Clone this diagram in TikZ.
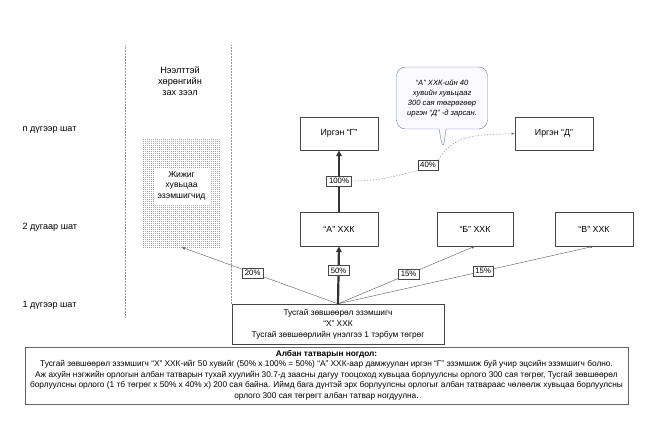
\documentclass[tikz,border=0pt]{standalone}
\usepackage{fontspec}
\setmainfont{Liberation Sans}
\usepackage{tikz}
\usetikzlibrary{calc, positioning, arrows.meta, patterns, shapes.callouts}

\pgfdeclarepatternformonly{finedots}{\pgfpointorigin}{\pgfqpoint{1.5pt}{1.5pt}}{\pgfqpoint{1.5pt}{1.5pt}}{%
  \pgfpathrectangle{\pgfqpoint{0.3pt}{0.3pt}}{\pgfqpoint{0.85pt}{0.85pt}}\pgfusepath{fill}}

\definecolor{boxline}{RGB}{70,70,70}
\definecolor{noteline}{RGB}{110,130,160}

\begin{document}
\begin{tikzpicture}[x=1pt, y=-1pt,
    every node/.style={font=\fontsize{8.8}{10}\selectfont},
    entity/.style={draw=boxline, fill=white, minimum width=78pt, minimum height=34pt, inner sep=1pt},
    pct/.style={draw=boxline, line width=0.5pt, fill=white, inner sep=2.4pt, font=\fontsize{7.8}{9}\selectfont},
    share/.style={draw=gray!70!black, thin, -{Latex[length=3.5pt,width=2.5pt]}},
    control/.style={draw=black!80, line width=2.2pt, -{Triangle[length=6pt,width=5.5pt]}},
    sold/.style={draw=gray, thin, dash pattern=on 1.5pt off 1.5pt, -{Latex[length=3pt,width=2.5pt]}}]
  \useasboundingbox (0,0) rectangle (655,426);
  % Market columns
  \draw[gray!80, dash pattern=on 0.6pt off 0.9pt] (125,45) -- (125,318);
  \draw[gray!80, dash pattern=on 0.6pt off 0.9pt] (231,45) -- (231,304);
  \node[align=center, font=\fontsize{9.2}{11}\selectfont] (market) at (180,81) {Нээлттэй\\хөрөнгийн\\зах зээл};
  % Levels
  \node[anchor=west, font=\fontsize{9.1}{10}\selectfont] (lvln) at (19,130) {n дүгээр шат};
  \node[anchor=west, font=\fontsize{9.1}{10}\selectfont] (lvl2) at (19,227) {2 дугаар шат};
  \node[anchor=west, font=\fontsize{9.1}{10}\selectfont] (lvl1) at (19,305) {1 дүгээр шат};
  % Small holders
  \node[minimum width=79pt, minimum height=109pt, pattern=finedots, pattern color=gray!65] (holders) at (181.5,192.5) {};
  \node[fill=white, align=center, minimum width=56pt, minimum height=36pt, inner sep=0pt,
        font=\fontsize{8.6}{10.5}\selectfont] (holderstxt) at (181.5,185.5) {Жижиг\\хувьцаа\\эзэмшигчид};
  % Companies and persons
  \node[entity, minimum height=33pt] (g) at (339,133.5) {Иргэн “Г”};
  \node[entity, minimum height=33pt] (d) at (554,133.5) {Иргэн “Д”};
  \node[entity] (a) at (339,229) {“А” ХХК};
  \node[entity, minimum width=76pt] (b) at (475,229) {“Б” ХХК};
  \node[entity] (v) at (594,229) {“В” ХХК};
  \node[entity, minimum width=212pt, minimum height=40pt, align=center,
        font=\fontsize{8.3}{11}\selectfont] (x) at (338,324)
        {Тусгай зөвшөөрөл эзэмшигч\\“Х” ХХК\\Тусгай зөвшөөрлийн үнэлгээ 1 тэрбум төгрөг};
  % Shares
  \draw[share] (x.north) -- node[pct, pos=0.545] (p20) {20\%} (holders.south);
  \draw[share] (x.north) -- node[pct, pos=0.515] (p15b) {15\%} (b.south);
  \draw[share] (x.north) -- node[pct, pos=0.567] (p15v) {15\%} (v.south);
  \draw[control] (x.north) -- node[pct, pos=0.58] (p50) {50\%} (a.south);
  \draw[control] (a.north) -- node[pct, pos=0.5] (p100) {100\%} (g.south);
  % Sale to Д
  \node[pct] (p40) at (428,165) {40\%};
  \draw[gray, thin, dash pattern=on 1.5pt off 1.5pt] (p100.east) to[out=0, in=195] (p40.south west);
  \draw[sold] (p40.north east) to[out=60, in=183] (d.west);
  % Note
  \coordinate (tip) at (443,150);
  \node[rectangle callout, rounded corners=9pt, draw=noteline, fill=blue!2, minimum width=91pt, minimum height=62pt,
        align=center, inner sep=1pt, callout absolute pointer={(tip)},
        font=\itshape\fontsize{7.6}{10}\selectfont] (note) at (442,98)
        {“А” ХХК-ийн 40\\хувийн хувьцааг\\300 сая төгрөгөөр\\иргэн “Д” -д зарсан.};
  % Tax note
  \draw[gray!80!black, line width=0.8pt] (25,347) rectangle (628,404);
  \node[align=center, font=\fontsize{8.3}{10.5}\selectfont] (tax) at (326.5,375)
    {\textbf{Албан татварын ногдол:}\\
     Тусгай зөвшөөрөл эзэмшигч “Х” ХХК-ийг 50 хувийг (50\% х 100\% = 50\%) “А” ХХК-аар дамжуулан иргэн “Г” эзэмшиж буй учир эцсийн эзэмшигч болно.\\
     Аж ахуйн нэгжийн орлогын албан татварын тухай хуулийн 30.7-д заасны дагуу тооцоход хувьцаа борлуулсны орлого 300 сая төгрөг, Тусгай зөвшөөрөл\\
     борлуулсны орлого (1 тб төгрөг х 50\% х 40\% х) 200 сая байна. Иймд бага дүнтэй эрх борлуулсны орлогыг албан татвараас чөлөөлж хувьцаа борлуулсны\\
     орлого 300 сая төгрөгт албан татвар ногдуулна.};
\end{tikzpicture}
\end{document}
